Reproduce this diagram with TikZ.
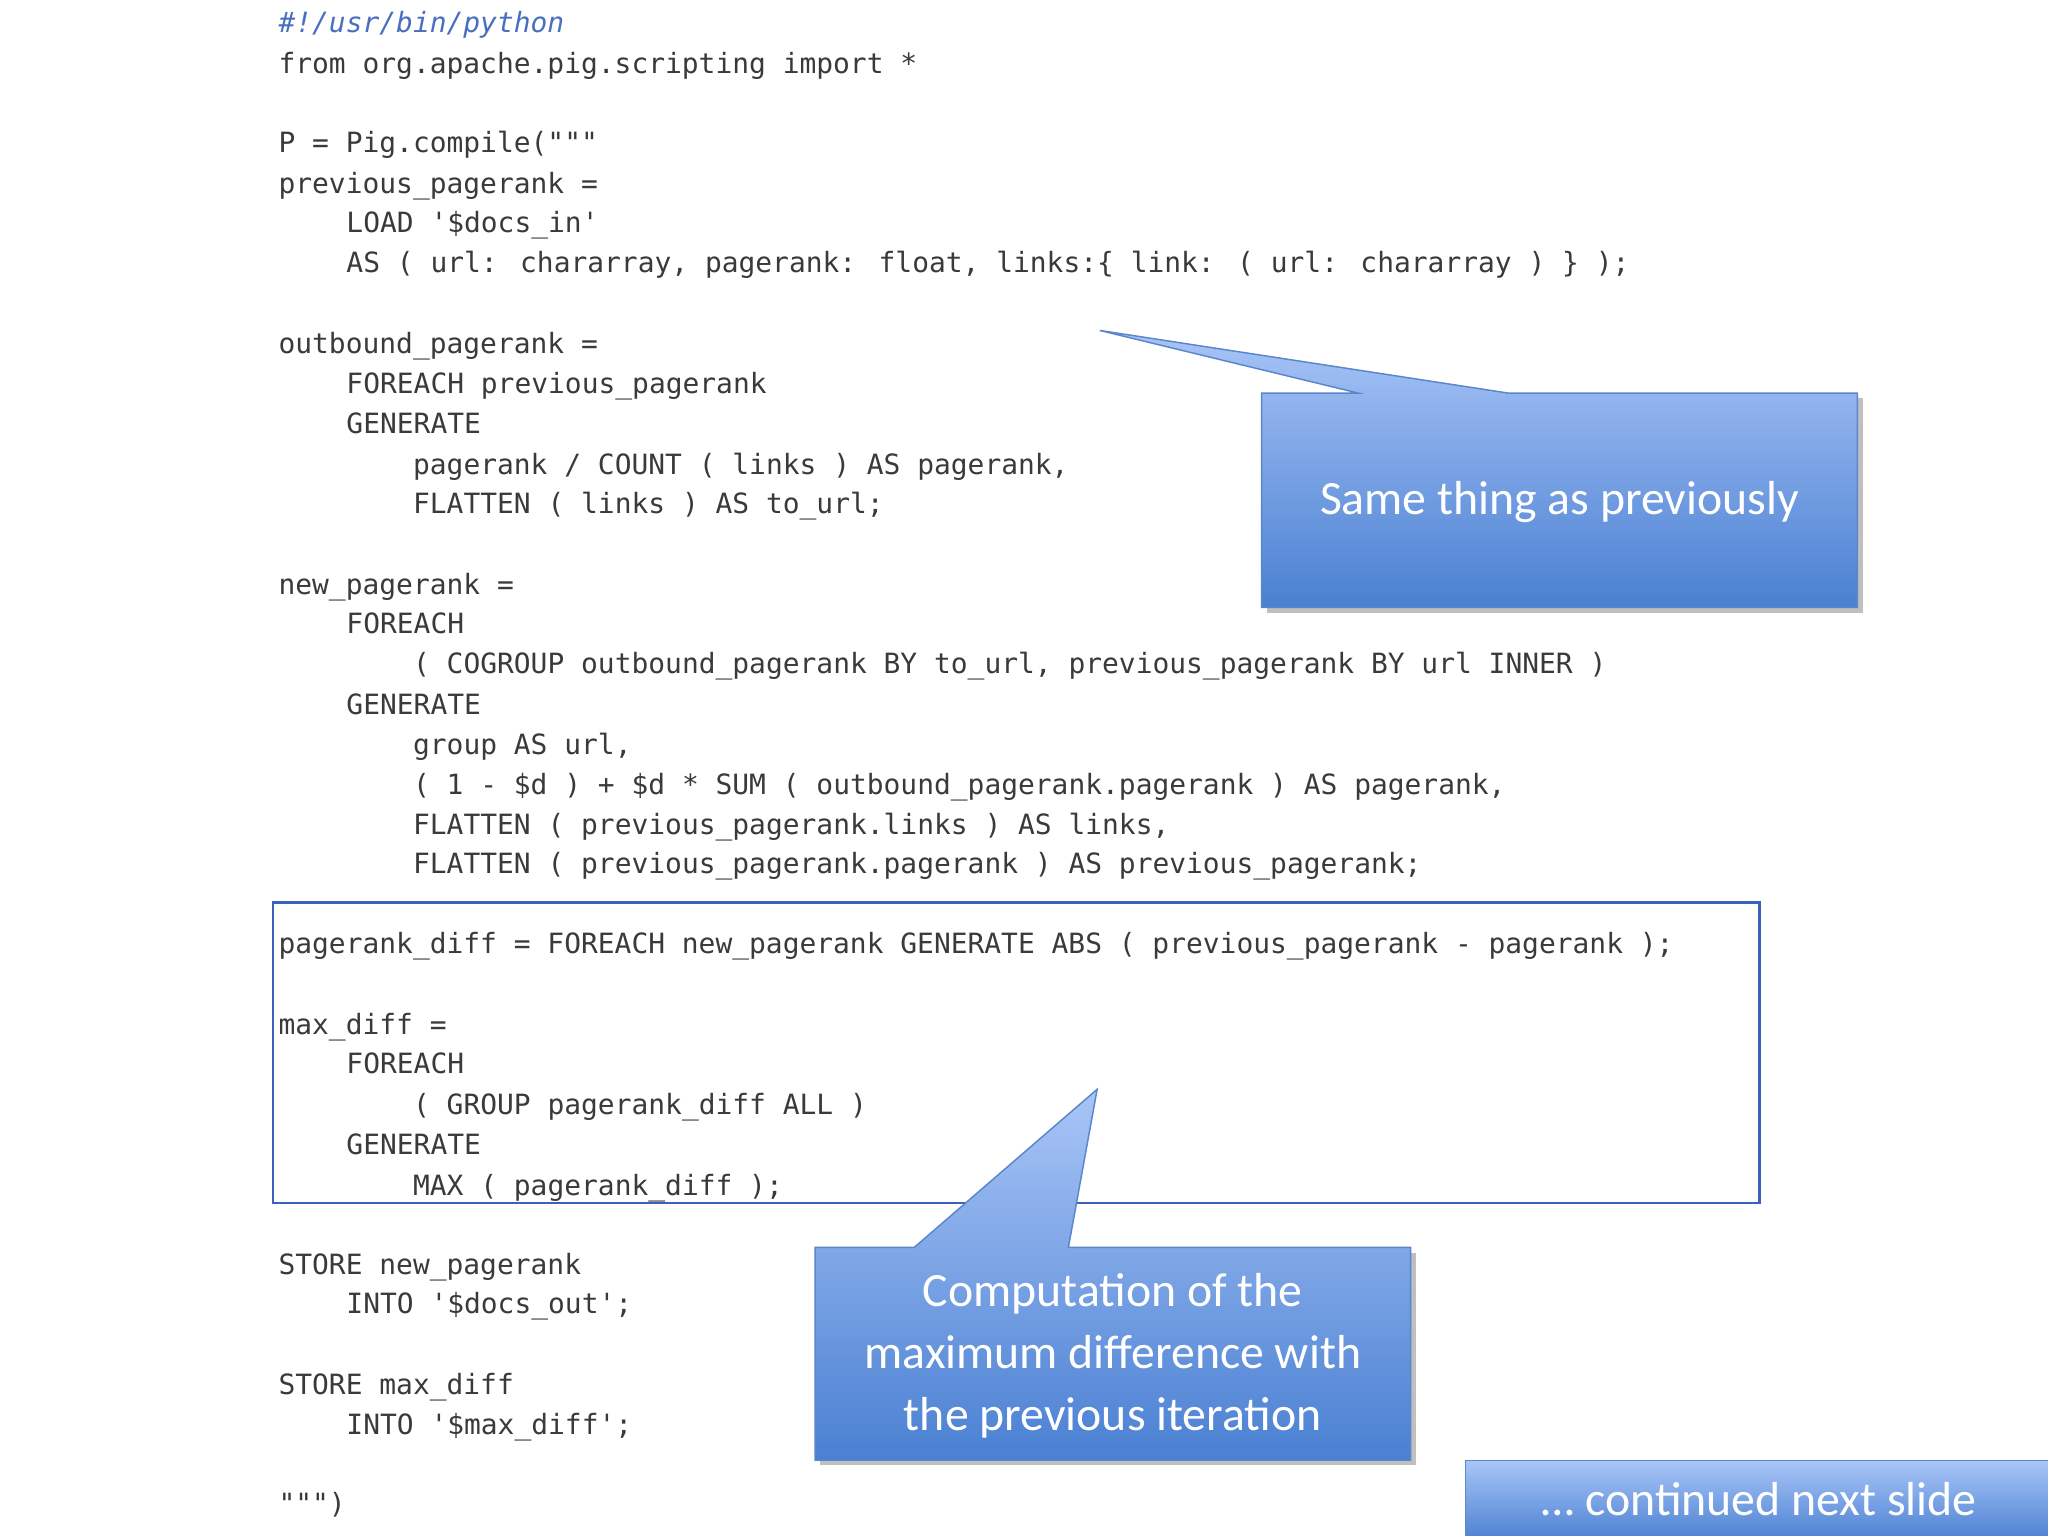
\documentclass[tikz,border=0pt]{standalone}
\usepackage{fontspec}
\newfontfamily\codef{DejaVu Sans Mono}
\newfontfamily\callf{Carlito}
\definecolor{codec}{HTML}{3A3A3A}
\definecolor{commc}{HTML}{4A6FC0}
\definecolor{ctop}{HTML}{A9C5F7}
\definecolor{cbot}{HTML}{4A80D2}
\definecolor{cbord}{HTML}{5A86CC}
\definecolor{boxc}{HTML}{3A62B8}
\begin{document}
\begin{tikzpicture}[x=0.025cm,y=-0.025cm,
  cl/.style={anchor=base west,inner sep=0,text=codec,font=\codef\fontsize{15.2}{16}\selectfont},
  callout/.style={draw=cbord,line width=0.8pt,top color=ctop,bottom color=cbot},
  ctext/.style={text=white,font=\callf\fontsize{26}{34}\selectfont,align=center}]
\useasboundingbox (0,0) rectangle (1568,1176);
\fill[white] (0,0) rectangle (1568,1176);
% code
\node[cl,text=commc,font=\codef\itshape\fontsize{15.2}{16}\selectfont] (l1) at (213,25) {\#!/usr/bin/python};
\node[cl] (l2) at (213,56) {from org.apache.pig.scripting import *};
\node[cl] (l3) at (213,117) {P = Pig.compile("""};
\node[cl] (l4) at (213,148) {previous\_pagerank =};
\node[cl] (l5) at (265,178) {LOAD '\$docs\_in'};
\node[cl] (l6) at (265,209) {AS ( url: chararray, pagerank: float, links:\{ link: ( url: chararray ) \} );};
\node[cl] (l7) at (213,271) {outbound\_pagerank =};
\node[cl] (l8) at (265,301) {FOREACH previous\_pagerank};
\node[cl] (l9) at (265,332) {GENERATE};
\node[cl] (l10) at (316,363) {pagerank / COUNT ( links ) AS pagerank,};
\node[cl] (l11) at (316,393) {FLATTEN ( links ) AS to\_url;};
\node[cl] (l12) at (213,455) {new\_pagerank =};
\node[cl] (l13) at (265,485) {FOREACH};
\node[cl] (l14) at (316,516) {( COGROUP outbound\_pagerank BY to\_url, previous\_pagerank BY url INNER )};
\node[cl] (l15) at (265,547) {GENERATE};
\node[cl] (l16) at (316,578) {group AS url,};
\node[cl] (l17) at (316,608) {( 1 - \$d ) + \$d * SUM ( outbound\_pagerank.pagerank ) AS pagerank,};
\node[cl] (l18) at (316,639) {FLATTEN ( previous\_pagerank.links ) AS links,};
\node[cl] (l19) at (316,669) {FLATTEN ( previous\_pagerank.pagerank ) AS previous\_pagerank;};
\node[cl] (l20) at (213,730) {pagerank\_diff = FOREACH new\_pagerank GENERATE ABS ( previous\_pagerank - pagerank );};
\node[cl] (l21) at (213,792) {max\_diff =};
\node[cl] (l22) at (265,822) {FOREACH};
\node[cl] (l23) at (316,853) {( GROUP pagerank\_diff ALL )};
\node[cl] (l24) at (265,884) {GENERATE};
\node[cl] (l25) at (316,915) {MAX ( pagerank\_diff );};
\node[cl] (l26) at (213,976) {STORE new\_pagerank};
\node[cl] (l27) at (265,1006) {INTO '\$docs\_out';};
\node[cl] (l28) at (213,1068) {STORE max\_diff};
\node[cl] (l29) at (265,1098) {INTO '\$max\_diff';};
\node[cl] (l30) at (213,1159) {""")};
% highlight box
\draw[boxc,line width=1.4pt] (209,691) rectangle (1347,921);
% callout 1
\fill[black!25] (970,305) rectangle (1426,469);
\path[callout] (966,301) -- (1040,301) -- (842,253) -- (1155,301) -- (1422,301) -- (1422,465) -- (966,465) -- cycle;
\node[ctext] (c1) at (1194,384) {Same thing as previously};
% callout 2
\fill[black!25] (628,959) rectangle (1084,1122);
\path[callout] (624,955) -- (700,955) -- (840,834) -- (818,955) -- (1080,955) -- (1080,1118) -- (624,1118) -- cycle;
\node[ctext] (c2) at (852,1038) {Computation of the\\maximum difference with\\the previous iteration};
% callout 3
\path[callout] (1122,1118) rectangle (1572,1180);
\node[ctext] (c3) at (1347,1148) {… continued next slide};
\end{tikzpicture}
\end{document}
